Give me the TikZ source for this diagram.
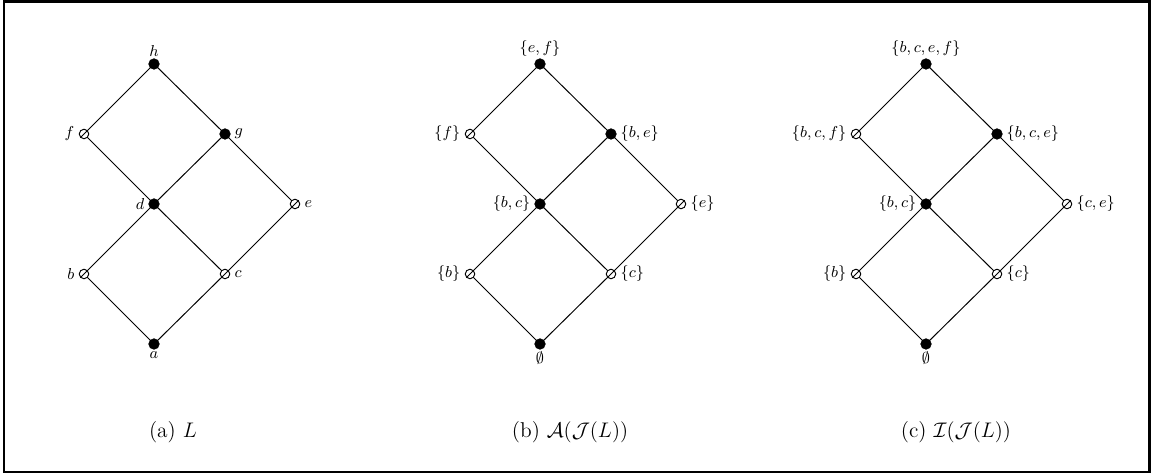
\documentclass[tikz,border=0pt]{standalone}
\usepackage{amsmath,amssymb}
\usetikzlibrary{calc}
\begin{document}
\begin{tikzpicture}[x=0.02cm,y=-0.02cm,
  fullnode/.style={circle,fill=black,draw=black,inner sep=0pt,minimum size=10.5pt*0.569},
  hollownode/.style={circle,fill=white,draw=black,line width=0.55pt,inner sep=0pt,minimum size=9.5pt*0.569},
  lbl/.style={font=\fontsize{9.4}{11}\selectfont},
  captext/.style={font=\fontsize{12.2}{15}\selectfont},
  conn/.style={line width=0.55pt}]
\useasboundingbox (0,0) rectangle (1156,475);
\draw[line width=1.2pt] (4,1.5) rectangle (1149.5,472);
% panel a
\foreach \n/\x/\y in {ah/154/64,ag/225/134,ad/154/204,aa/154/344}{\coordinate (\n) at (\x,\y);}
\foreach \n/\x/\y in {af/84/134,ae/295/204,ab/84/274,ac/225/274}{\coordinate (\n) at (\x,\y);}
\draw[conn] (aa)--(ab)--(ad)--(af)--(ah)--(ag)--(ae)--(ac)--(aa);
\draw[conn] (ac)--(ad)--(ag);
\foreach \n in {ah,ag,ad,aa}{\node[fullnode] (n\n) at (\n) {};}
\foreach \n in {af,ae,ab,ac}{\node[hollownode] (n\n) at (\n) {}; \draw[conn] ($(\n)+(-3.5,3.5)$)--($(\n)+(3.5,-3.5)$);}
\node[lbl,above=1pt] at (ah) {$h$};
\node[lbl,right=2pt] at (ag) {$g$};
\node[lbl,left=2pt] at (ad) {$d$};
\node[lbl,below=1pt] at (aa) {$a$};
\node[lbl,left=2pt] at (af) {$f$};
\node[lbl,right=2pt] at (ae) {$e$};
\node[lbl,left=2pt] at (ab) {$b$};
\node[lbl,right=2pt] at (ac) {$c$};
% panel b
\foreach \n/\x/\y in {bh/540/64,bg/611/134,bd/540/204,ba/540/344}{\coordinate (\n) at (\x,\y);}
\foreach \n/\x/\y in {bf/470/134,be/681/204,bb/470/274,bc/611/274}{\coordinate (\n) at (\x,\y);}
\draw[conn] (ba)--(bb)--(bd)--(bf)--(bh)--(bg)--(be)--(bc)--(ba);
\draw[conn] (bc)--(bd)--(bg);
\foreach \n in {bh,bg,bd,ba}{\node[fullnode] (n\n) at (\n) {};}
\foreach \n in {bf,be,bb,bc}{\node[hollownode] (n\n) at (\n) {}; \draw[conn] ($(\n)+(-3.5,3.5)$)--($(\n)+(3.5,-3.5)$);}
\node[lbl,above=1pt] at (bh) {$\{e,f\}$};
\node[lbl,right=2pt] at (bg) {$\{b,e\}$};
\node[lbl,left=2pt] at (bd) {$\{b,c\}$};
\node[lbl,below=1pt] at (ba) {$\emptyset$};
\node[lbl,left=2pt] at (bf) {$\{f\}$};
\node[lbl,right=2pt] at (be) {$\{e\}$};
\node[lbl,left=2pt] at (bb) {$\{b\}$};
\node[lbl,right=2pt] at (bc) {$\{c\}$};
% panel c
\foreach \n/\x/\y in {ch/926/64,cg/997/134,cd/926/204,ca/926/344}{\coordinate (\n) at (\x,\y);}
\foreach \n/\x/\y in {cf/856/134,ce/1067/204,cb/856/274,cc/997/274}{\coordinate (\n) at (\x,\y);}
\draw[conn] (ca)--(cb)--(cd)--(cf)--(ch)--(cg)--(ce)--(cc)--(ca);
\draw[conn] (cc)--(cd)--(cg);
\foreach \n in {ch,cg,cd,ca}{\node[fullnode] (n\n) at (\n) {};}
\foreach \n in {cf,ce,cb,cc}{\node[hollownode] (n\n) at (\n) {}; \draw[conn] ($(\n)+(-3.5,3.5)$)--($(\n)+(3.5,-3.5)$);}
\node[lbl,above=1pt] at (ch) {$\{b,c,e,f\}$};
\node[lbl,right=2pt] at (cg) {$\{b,c,e\}$};
\node[lbl,left=2pt] at (cd) {$\{b,c\}$};
\node[lbl,below=1pt] at (ca) {$\emptyset$};
\node[lbl,left=2pt] at (cf) {$\{b,c,f\}$};
\node[lbl,right=2pt] at (ce) {$\{c,e\}$};
\node[lbl,left=2pt] at (cb) {$\{b\}$};
\node[lbl,right=2pt] at (cc) {$\{c\}$};
% captions
\node[captext] (capa) at (173,432) {(a) $L$};
\node[captext] (capb) at (570,432) {(b) $\mathcal{A}(\mathcal{J}(L))$};
\node[captext] (capc) at (956,432) {(c) $\mathcal{I}(\mathcal{J}(L))$};
\end{tikzpicture}
\end{document}
